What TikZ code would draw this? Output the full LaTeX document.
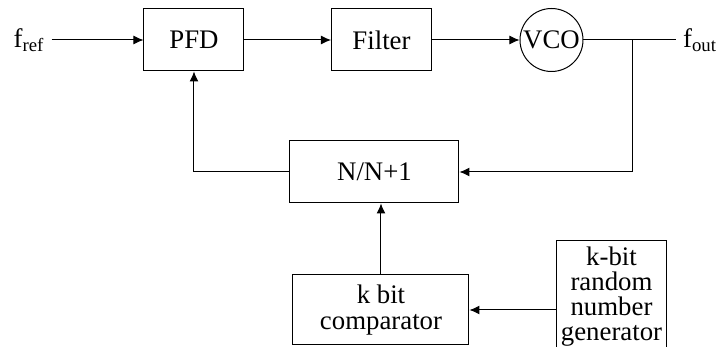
\documentclass[tikz,border=0pt]{standalone}
\usepackage{fontspec}
\setmainfont{Liberation Serif}
\newfontfamily\tnr{Liberation Serif}
\usetikzlibrary{arrows.meta}

\tikzset{
	blk/.style={draw,rectangle,line width=0.5pt,inner sep=2pt,align=center},
	txt/.style={font=\tnr\fontsize{13.4pt}{12.6pt}\selectfont}
}

\begin{document}
\begin{tikzpicture}[>={Latex[length=5pt,width=4.5pt]},x=0.5pt,y=-0.5pt,line width=0.5pt,txt]
		
		\useasboundingbox (0,0) rectangle (720,347);
		
		\node (fref) at (29,40) {f\textsubscript{ref}};
		\node[anchor=west] (fout) at (676,40) {f\textsubscript{out}};
		
		\node[blk,minimum width=50pt,minimum height=31pt] (pfd) at (194,40) {PFD};
		\node[blk,minimum width=50pt,minimum height=31pt] (filter) at (381.5,40) {Filter};
		\node[draw,circle,inner sep=0pt,minimum size=31.5pt] (vco) at (551.5,40) {VCO};
		
		\node[blk,minimum width=84.5pt,minimum height=31pt] (ndiv) at (374.5,172) {N/N+1};
		\node[blk,minimum width=88pt,minimum height=35pt] (comp) at (381,310) {k bit\\comparator};
		\node[blk,minimum width=45.5pt,minimum height=55.5pt] (rng) at (611.5,296.5) {k-bit\\random\\number\\generator};
		
		\coordinate (br) at (633,40);
		
		\draw[->] (fref.east) -- (pfd.west);
		\draw[->] (pfd.east) -- (filter.west);
		\draw[->] (filter.east) -- (vco.west);
		\draw (vco.east) -- (fout.west);
		
		\draw[->] (br) |- (ndiv.east);
		\draw[->] (ndiv.west) -| (pfd.south);
		\draw[->] (comp.north) -- (comp.north |- ndiv.south);
		\draw[->] (rng.west |- comp.east) -- (comp.east);
	\end{tikzpicture}
\end{document}
